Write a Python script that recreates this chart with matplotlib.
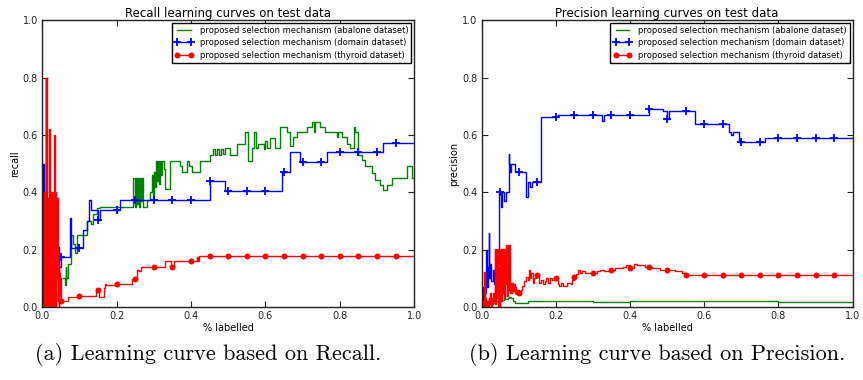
import numpy as np
import matplotlib
matplotlib.use('Agg')
import matplotlib.pyplot as plt

# ---- valeurs ----
LABELS = ['proposed selection mechanism (abalone dataset)',
          'proposed selection mechanism (domain dataset)',
          'proposed selection mechanism (thyroid dataset)']

# Recall - abalone
recall_abalone_x = [
    0.055, 0.060, 0.063, 0.065, 0.070, 0.077, 0.082, 0.088, 0.094, 0.110,
    0.121, 0.130, 0.137, 0.146, 0.155, 0.245, 0.248, 0.251, 0.254, 0.257,
    0.260, 0.263, 0.266, 0.269, 0.272, 0.281, 0.290, 0.294, 0.297, 0.300,
    0.303, 0.306, 0.308, 0.311, 0.314, 0.317, 0.320, 0.323, 0.326, 0.330,
    0.343, 0.370, 0.375, 0.388, 0.395, 0.402, 0.424, 0.451, 0.460, 0.465,
    0.470, 0.475, 0.480, 0.485, 0.490, 0.505, 0.523, 0.545, 0.554, 0.563,
    0.570, 0.575, 0.581, 0.595, 0.600, 0.604, 0.613, 0.626, 0.639, 0.657,
    0.666, 0.675, 0.684, 0.711, 0.725, 0.730, 0.734, 0.747, 0.761, 0.792,
    0.796, 0.805, 0.819, 0.828, 0.837, 0.841, 0.850, 0.859, 0.868, 0.886,
    0.895, 0.909, 0.917, 0.926, 0.940, 0.980, 0.994, 1.000]
recall_abalone_y = [
    0.10, 0.077, 0.14, 0.10, 0.15, 0.25, 0.22, 0.19, 0.25, 0.25,
    0.30, 0.29, 0.326, 0.344, 0.35, 0.45, 0.35, 0.45, 0.36, 0.45,
    0.35, 0.45, 0.37, 0.45, 0.35, 0.373, 0.40, 0.46, 0.38, 0.47,
    0.42, 0.51, 0.44, 0.51, 0.43, 0.51, 0.46, 0.51, 0.48, 0.41,
    0.51, 0.49, 0.47, 0.51, 0.49, 0.47, 0.51, 0.53, 0.55, 0.53,
    0.55, 0.53, 0.55, 0.535, 0.553, 0.53, 0.57, 0.61, 0.51, 0.553,
    0.61, 0.553, 0.57, 0.55, 0.58, 0.553, 0.59, 0.553, 0.628, 0.61,
    0.56, 0.593, 0.61, 0.628, 0.646, 0.61, 0.646, 0.628, 0.61, 0.593,
    0.61, 0.593, 0.57, 0.553, 0.628, 0.61, 0.53, 0.512, 0.49, 0.466,
    0.443, 0.425, 0.408, 0.425, 0.45, 0.49, 0.45, 0.45]

# Recall - domain
recall_domain_x = [
    0.000, 0.002, 0.004, 0.006, 0.010, 0.020, 0.030, 0.040, 0.045, 0.050,
    0.055, 0.075, 0.078, 0.100, 0.110, 0.120, 0.125, 0.130, 0.150, 0.155,
    0.200, 0.210, 0.250, 0.300, 0.350, 0.400, 0.450, 0.490, 0.500, 0.550,
    0.600, 0.645, 0.650, 0.666, 0.693, 0.700, 0.750, 0.765, 0.800, 0.850,
    0.900, 0.916, 0.950, 1.000]
recall_domain_y = [
    0.0, 0.5, 0.0, 0.23, 0.20, 0.23, 0.17, 0.21, 0.14, 0.175,
    0.175, 0.31, 0.205, 0.205, 0.27, 0.30, 0.373, 0.338, 0.303, 0.338,
    0.338, 0.373, 0.373, 0.373, 0.373, 0.373, 0.44, 0.405, 0.405, 0.405,
    0.405, 0.47, 0.47, 0.539, 0.506, 0.506, 0.506, 0.539, 0.539, 0.539,
    0.539, 0.573, 0.573, 0.573]

# Recall - thyroid
recall_thyroid_x = [
    0.000, 0.004, 0.005, 0.006, 0.007, 0.008, 0.009, 0.010, 0.011, 0.012,
    0.013, 0.014, 0.015, 0.016, 0.017, 0.018, 0.019, 0.020, 0.021, 0.022,
    0.023, 0.024, 0.025, 0.026, 0.027, 0.028, 0.029, 0.030, 0.031, 0.032,
    0.033, 0.034, 0.035, 0.036, 0.037, 0.038, 0.039, 0.040, 0.041, 0.042,
    0.043, 0.044, 0.045, 0.046, 0.047, 0.048, 0.050,
    0.070, 0.100, 0.145, 0.150, 0.153, 0.165, 0.168, 0.170, 0.200, 0.240,
    0.250, 0.255, 0.260, 0.265, 0.300, 0.330, 0.345, 0.350, 0.355, 0.400,
    0.415, 0.418, 0.420, 0.450, 0.500, 0.550, 0.600, 0.650, 0.700, 0.750,
    0.800, 0.850, 0.900, 0.950, 1.000]
recall_thyroid_y = [
    0.0, 0.40, 0.0, 0.20, 0.40, 0.02, 0.80, 0.0, 0.80, 0.05,
    0.40, 0.0, 0.38, 0.10, 0.40, 0.0, 0.62, 0.0, 0.40, 0.15,
    0.40, 0.0, 0.38, 0.20, 0.40, 0.0, 0.40, 0.05, 0.0, 0.60,
    0.0, 0.38, 0.12, 0.40, 0.0, 0.36, 0.10, 0.38, 0.02, 0.30,
    0.05, 0.15, 0.0, 0.12, 0.04, 0.10, 0.02,
    0.036, 0.038, 0.059, 0.059, 0.036, 0.065, 0.08, 0.076, 0.079, 0.097,
    0.097, 0.13, 0.125, 0.14, 0.14, 0.16, 0.14, 0.14, 0.16, 0.16,
    0.175, 0.16, 0.178, 0.178, 0.178, 0.178, 0.178, 0.178, 0.178, 0.178,
    0.178, 0.178, 0.178, 0.178, 0.178]

# Precision - abalone
precision_abalone_x = [
    0.0, 0.01, 0.02, 0.03, 0.04, 0.05, 0.06, 0.07, 0.075, 0.08,
    0.085, 0.09, 0.12, 0.125, 0.2, 0.3, 0.4, 0.5, 0.6, 0.7,
    0.8, 0.85, 0.9, 0.95, 1.0]
precision_abalone_y = [
    0.0, 0.01, 0.02, 0.015, 0.02, 0.025, 0.028, 0.03, 0.036, 0.03,
    0.02, 0.013, 0.013, 0.021, 0.02, 0.019, 0.021, 0.02, 0.021, 0.02,
    0.019, 0.017, 0.016, 0.016, 0.018]

# Precision - domain
precision_domain_x = [
    0.000, 0.004, 0.006, 0.008, 0.010, 0.012, 0.014, 0.017, 0.019, 0.021,
    0.023, 0.026, 0.030, 0.034, 0.038, 0.042, 0.046, 0.048, 0.050, 0.053,
    0.056, 0.060, 0.066, 0.073, 0.075, 0.078, 0.080, 0.090, 0.100, 0.121,
    0.124, 0.130, 0.135, 0.150, 0.159, 0.200, 0.205, 0.250, 0.300, 0.325,
    0.329, 0.350, 0.400, 0.450, 0.490, 0.500, 0.505, 0.550, 0.575, 0.600,
    0.650, 0.667, 0.672, 0.677, 0.695, 0.700, 0.750, 0.765, 0.800, 0.850,
    0.900, 0.950, 1.000]
precision_domain_y = [
    0.0, 0.07, 0.02, 0.12, 0.05, 0.20, 0.07, 0.14, 0.257, 0.10,
    0.15, 0.09, 0.13, 0.08, 0.15, 0.15, 0.20, 0.40, 0.40, 0.35,
    0.40, 0.37, 0.40, 0.535, 0.50, 0.47, 0.50, 0.47, 0.47, 0.384,
    0.437, 0.42, 0.437, 0.437, 0.663, 0.663, 0.67, 0.67, 0.67, 0.65,
    0.67, 0.67, 0.67, 0.692, 0.684, 0.657, 0.684, 0.684, 0.638, 0.638,
    0.638, 0.61, 0.60, 0.61, 0.576, 0.576, 0.576, 0.588, 0.588, 0.588,
    0.588, 0.588, 0.588]

# Precision - thyroid
precision_thyroid_x = [
    0.000, 0.003, 0.005, 0.007, 0.009, 0.011, 0.013, 0.015, 0.017, 0.019,
    0.021, 0.023, 0.025, 0.027, 0.029, 0.031, 0.033, 0.035, 0.037, 0.039,
    0.041, 0.043, 0.045, 0.047, 0.049, 0.051, 0.053, 0.055, 0.057, 0.059,
    0.061, 0.063, 0.065, 0.067, 0.069, 0.071, 0.073, 0.075, 0.077, 0.079,
    0.081, 0.083, 0.085, 0.087, 0.089, 0.091, 0.093, 0.096, 0.100, 0.105,
    0.110, 0.115, 0.120, 0.124, 0.128, 0.131, 0.134, 0.138, 0.142, 0.146,
    0.150, 0.155, 0.160, 0.165, 0.170, 0.175, 0.180, 0.185, 0.190, 0.200,
    0.205, 0.210, 0.215, 0.220, 0.230, 0.240, 0.245, 0.250, 0.255, 0.260,
    0.265, 0.270, 0.280, 0.300, 0.310, 0.320, 0.330, 0.350, 0.360, 0.380,
    0.390, 0.400, 0.410, 0.420, 0.430, 0.440, 0.450, 0.460, 0.480, 0.500,
    0.520, 0.540, 0.550, 0.600, 0.650, 0.700, 0.750, 0.800, 0.850, 0.900,
    0.950, 1.000]
precision_thyroid_y = [
    0.0, 0.02, 0.0, 0.123, 0.01, 0.03, 0.0, 0.02, 0.0, 0.03,
    0.01, 0.05, 0.0, 0.03, 0.01, 0.05, 0.02, 0.204, 0.01, 0.204,
    0.03, 0.204, 0.0, 0.14, 0.0, 0.204, 0.02, 0.204, 0.05, 0.204,
    0.03, 0.204, 0.08, 0.215, 0.04, 0.215, 0.06, 0.215, 0.05, 0.085,
    0.05, 0.085, 0.055, 0.08, 0.05, 0.07, 0.045, 0.06, 0.05, 0.06,
    0.075, 0.09, 0.105, 0.095, 0.13, 0.10, 0.12, 0.085, 0.10, 0.11,
    0.11, 0.085, 0.095, 0.08, 0.09, 0.10, 0.085, 0.10, 0.095, 0.10,
    0.08, 0.075, 0.085, 0.075, 0.085, 0.08, 0.095, 0.105, 0.115, 0.13,
    0.12, 0.125, 0.12, 0.12, 0.125, 0.13, 0.125, 0.128, 0.135, 0.14,
    0.145, 0.135, 0.15, 0.145, 0.148, 0.14, 0.14, 0.135, 0.13, 0.128,
    0.125, 0.12, 0.111, 0.111, 0.111, 0.111, 0.111, 0.111, 0.111, 0.111,
    0.111, 0.111]

TICKS = [0.0, 0.2, 0.4, 0.6, 0.8, 1.0]


def marker_mask(x):
    # un marqueur tous les 5 %
    x = np.asarray(x)
    return np.isclose(x * 20, np.round(x * 20)) & (x < 0.999)


def draw_panel(ax, series, title, ylabel):
    (xa, ya), (xd, yd), (xt, yt) = series
    ax.plot(xa, ya, color=(0, 0.5, 0), lw=1.0, drawstyle='steps-post', label=LABELS[0])
    ax.plot(xd, yd, color='b', lw=1.0, drawstyle='steps-post', marker='+',
            markersize=6, markeredgewidth=1.3, markevery=list(marker_mask(xd)), label=LABELS[1])
    ax.plot(xt, yt, color='r', lw=1.0, drawstyle='steps-post', marker='o',
            markersize=4.3, markeredgewidth=0, markevery=list(marker_mask(xt)), label=LABELS[2])
    ax.set_xlim(0, 1)
    ax.set_ylim(0, 1)
    ax.set_xticks(TICKS)
    ax.set_yticks(TICKS)
    ax.tick_params(direction='in', top=True, right=True, length=4, width=0.8,
                   labelsize=7, pad=3, colors='#222222')
    for s in ax.spines.values():
        s.set_linewidth(1.0)
        s.set_color('#222222')
    ax.set_title(title, fontsize=8.5, pad=2)
    ax.set_xlabel('% labelled', fontsize=7, labelpad=1)
    ax.set_ylabel(ylabel, fontsize=7, labelpad=2)
    leg = ax.legend(loc='upper right', fontsize=6, numpoints=2, handlelength=2.2,
                    handletextpad=0.8, fancybox=False, framealpha=1, edgecolor='black',
                    borderaxespad=0.35, borderpad=0.35, labelspacing=0.4)
    leg.get_frame().set_linewidth(1.0)


fig = plt.figure(figsize=(8.63, 3.8), dpi=100)
ax1 = fig.add_axes([0.049, 0.192, 0.431, 0.755])
ax2 = fig.add_axes([0.558, 0.192, 0.430, 0.755])

draw_panel(ax1, [(recall_abalone_x, recall_abalone_y),
                 (recall_domain_x, recall_domain_y),
                 (recall_thyroid_x, recall_thyroid_y)],
           'Recall learning curves on test data', 'recall')
draw_panel(ax2, [(precision_abalone_x, precision_abalone_y),
                 (precision_domain_x, precision_domain_y),
                 (precision_thyroid_x, precision_thyroid_y)],
           'Precision learning curves on test data', 'precision')

# sous-titres
fig.text(0.241, 0.066, '(a) Learning curve based on Recall.', ha='center', va='center',
         family='cmr10', fontsize=16)
fig.text(0.761, 0.066, '(b) Learning curve based on Precision.', ha='center', va='center',
         family='cmr10', fontsize=16)

fig.savefig('out.png', dpi=100)
